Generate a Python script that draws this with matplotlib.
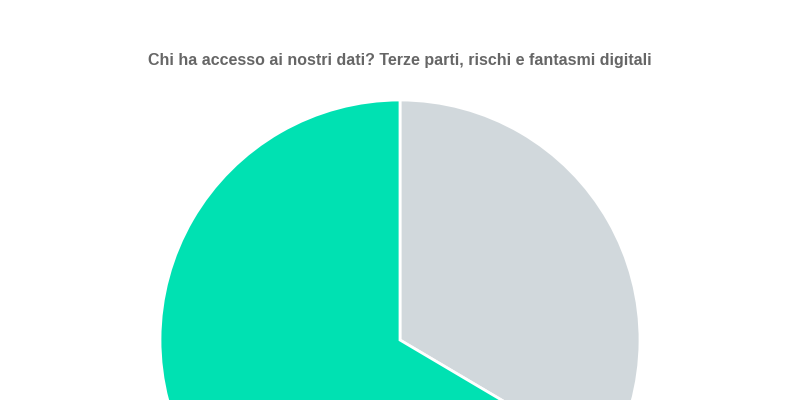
import matplotlib
matplotlib.use("Agg")
import matplotlib.pyplot as plt

labels = ["Terze parti", "Altro"]
values = [33.5, 66.5]
colors = ["#D1D8DC", "#00E1B2"]
title = "Chi ha accesso ai nostri dati? Terze parti, rischi e fantasmi digitali"

fig = plt.figure(figsize=(8, 4), dpi=100)
ax = fig.add_axes([0, 0, 1, 1])
ax.pie(values, colors=colors, startangle=90, counterclock=False,
       center=(400, 60), radius=240,
       wedgeprops=dict(edgecolor="white", linewidth=2))
ax.set_xlim(0, 800)
ax.set_ylim(0, 400)
ax.set_aspect("equal")
ax.axis("off")
fig.text(0.5, 1 - 60 / 400, title, ha="center", va="center",
         fontsize=11.5, fontweight="bold", color="#666666",
         family="Liberation Sans")
fig.savefig("out.png", dpi=100, facecolor="white")
